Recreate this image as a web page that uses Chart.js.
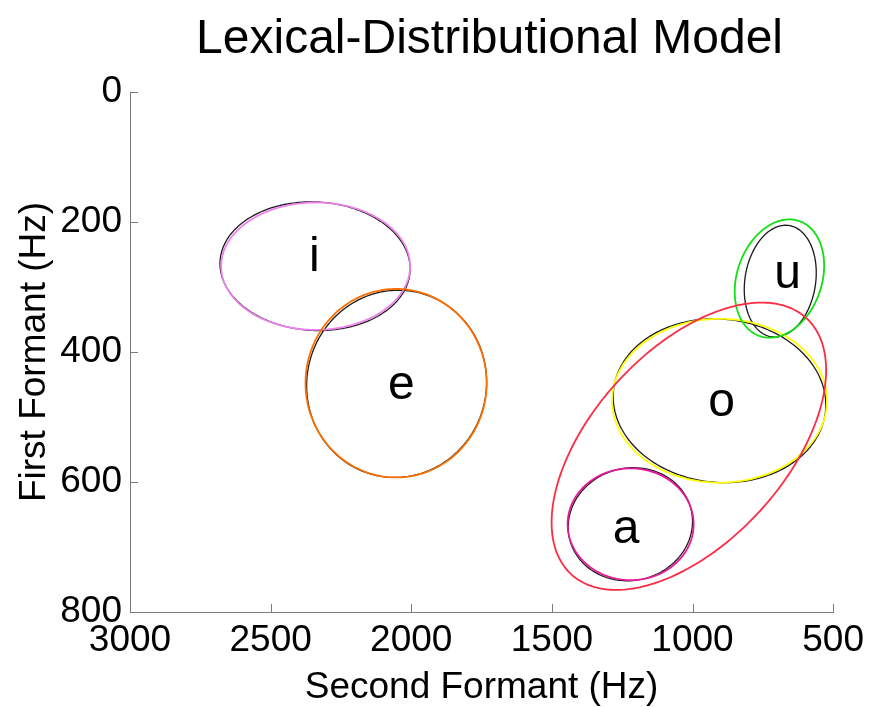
<!DOCTYPE html>
<html>
<head>
<meta charset="utf-8">
<script src="https://cdn.jsdelivr.net/npm/chart.js@4.4.1/dist/chart.umd.min.js"></script>
<style>
  html, body { margin: 0; padding: 0; background: #ffffff; }
  #wrap { width: 871px; height: 707px; position: relative; }
</style>
</head>
<body>
<div id="wrap"><canvas id="chart" width="871" height="707"></canvas></div>
<script>
// Vowel labels, placed at the category means (Hz)
const vowels  = ['i', 'e', 'a', 'o', 'u'];
const labelF2 = [2345, 2035, 1236, 897, 662];
const labelF1 = [255, 452, 673, 478, 281];

// True vowel categories (black): mean, spread along each formant, F1/F2 correlation
const trueF2   = [2342, 2052, 1221, 904, 688];
const trueF1   = [268, 449, 665, 475, 291];
const trueSdF2 = [338, 320, 221, 378, 128];
const trueSdF1 = [99, 144, 87, 126, 86];
const trueRho  = [-0.04, 0.02, 0.05, -0.05, 0.15];

// Categories learned by the lexical-distributional model (coloured)
const learnedF2    = [2340, 2054, 1220, 904, 691, 1013];
const learnedF1    = [268, 448, 665, 475, 287, 545];
const learnedSdF2  = [336, 322, 224, 382, 159, 488];
const learnedSdF1  = [98, 145, 86, 126, 91, 221];
const learnedRho   = [0, 0, 0, 0, 0.22, 0.53];
const learnedColor = ['#ee82ee', '#ff6f00', '#e8189a', '#ffff00', '#11e011', '#ff2a44'];

// Axis ticks
const f2Ticks = [3000, 2500, 2000, 1500, 1000, 500];
const f1Ticks = [0, 200, 400, 600, 800];

const FONT = "'Liberation Sans', Arial, Helvetica, sans-serif";

function strokeEllipse(chart, mF2, mF1, sF2, sF1, rho, color, width) {
  const x = chart.scales.x, y = chart.scales.y, ctx = chart.ctx;
  const k = Math.sqrt(1 - rho * rho);
  ctx.beginPath();
  const n = 240;
  for (let i = 0; i <= n; i++) {
    const t = (i / n) * Math.PI * 2;
    const f2 = mF2 + sF2 * Math.cos(t);
    const f1 = mF1 + sF1 * (rho * Math.cos(t) + k * Math.sin(t));
    const px = x.getPixelForValue(f2), py = y.getPixelForValue(f1);
    if (i === 0) ctx.moveTo(px, py); else ctx.lineTo(px, py);
  }
  ctx.closePath();
  ctx.strokeStyle = color;
  ctx.lineWidth = width;
  ctx.stroke();
}

const ellipsePlugin = {
  id: 'categoryEllipses',
  afterDatasetsDraw(chart) {
    const ctx = chart.ctx;
    ctx.save();
    for (let i = 0; i < trueF2.length; i++) {
      strokeEllipse(chart, trueF2[i], trueF1[i], trueSdF2[i], trueSdF1[i], trueRho[i], '#1a1a1a', 1.3);
    }
    for (let i = 0; i < learnedF2.length; i++) {
      strokeEllipse(chart, learnedF2[i], learnedF1[i], learnedSdF2[i], learnedSdF1[i], learnedRho[i], learnedColor[i], 1.8);
    }
    // vowel letters at the label points
    const meta = chart.getDatasetMeta(0);
    ctx.fillStyle = '#000';
    ctx.font = '48px ' + FONT;
    ctx.textAlign = 'center';
    ctx.textBaseline = 'middle';
    meta.data.forEach((pt, i) => ctx.fillText(vowels[i], pt.x, pt.y));
    ctx.restore();
  }
};

// MATLAB-style axes: inward tick marks and a centred title above the plot
const axesPlugin = {
  id: 'inwardTicks',
  afterDraw(chart) {
    const {ctx, chartArea: a, scales: {x, y}} = chart;
    ctx.save();
    ctx.strokeStyle = '#7a7a7a';
    ctx.lineWidth = 1;
    ctx.beginPath();
    f2Ticks.forEach(v => {
      const px = Math.round(x.getPixelForValue(v)) + 0.5;
      ctx.moveTo(px, a.bottom); ctx.lineTo(px, a.bottom - 8);
    });
    f1Ticks.forEach(v => {
      const py = Math.round(y.getPixelForValue(v)) + 0.5;
      ctx.moveTo(a.left, py); ctx.lineTo(a.left + 8, py);
    });
    ctx.stroke();
    ctx.fillStyle = '#000';
    ctx.font = '48px ' + FONT;
    ctx.textAlign = 'center';
    ctx.textBaseline = 'alphabetic';
    ctx.fillText('Lexical-Distributional Model', (a.left + a.right) / 2 + 8, 53);
    ctx.restore();
  }
};

new Chart(document.getElementById('chart'), {
  type: 'scatter',
  data: {
    datasets: [{
      label: 'vowels',
      data: labelF2.map((f2, i) => ({x: f2, y: labelF1[i]})),
      pointRadius: 0,
      showLine: false
    }]
  },
  options: {
    responsive: false,
    animation: false,
    events: [],
    layout: { padding: { top: 92, right: 33, bottom: 0, left: 0 } },
    plugins: { legend: { display: false }, title: { display: false }, tooltip: { enabled: false } },
    scales: {
      x: {
        type: 'linear',
        reverse: true,
        min: 500, max: 3000,
        afterFit(scale) { scale.height = 95; },
        afterBuildTicks(scale) { scale.ticks = f2Ticks.map(v => ({value: v})); },
        grid: { display: true, drawOnChartArea: false, drawTicks: false },
        border: { display: true, color: '#7a7a7a', width: 1 },
        ticks: { color: '#000', padding: 7, maxRotation: 0, autoSkip: false, callback: v => String(v), font: { family: FONT, size: 37 } },
        title: { display: true, text: 'Second Formant (Hz)', color: '#000', padding: { top: 0, bottom: 1 }, font: { family: FONT, size: 37, lineHeight: 1 } }
      },
      y: {
        type: 'linear',
        reverse: true,
        min: 0, max: 800,
        afterFit(scale) { scale.width = 130; },
        afterBuildTicks(scale) { scale.ticks = f1Ticks.map(v => ({value: v})); },
        grid: { display: true, drawOnChartArea: false, drawTicks: false },
        border: { display: true, color: '#7a7a7a', width: 1 },
        ticks: { color: '#000', padding: 8, autoSkip: false, callback: v => String(v), font: { family: FONT, size: 37 } },
        title: { display: true, text: 'First Formant (Hz)', color: '#000', padding: { top: 16, bottom: 0 }, font: { family: FONT, size: 37, lineHeight: 1 } }
      }
    }
  },
  plugins: [ellipsePlugin, axesPlugin]
});
</script>
</body>
</html>
